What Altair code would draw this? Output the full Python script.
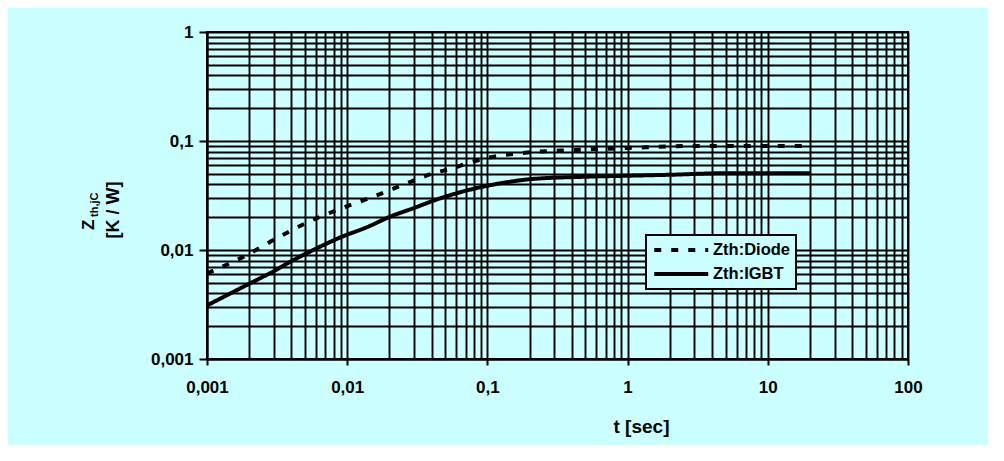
import altair as alt
import pandas as pd

# ---- data ----
series_names = ["Zth:Diode", "Zth:IGBT"]

diode_t = [0.001, 0.0018, 0.003, 0.005, 0.009, 0.016, 0.028, 0.042, 0.056, 0.075,
           0.1, 0.2, 0.4, 1, 3, 10, 20]
diode_z = [0.0061, 0.0086, 0.0124, 0.0175, 0.024, 0.0315, 0.042, 0.051, 0.056, 0.0635,
           0.07, 0.0787, 0.0826, 0.0863, 0.09, 0.09, 0.09]

igbt_t = [0.001, 0.002, 0.003, 0.004, 0.006, 0.009, 0.014, 0.02, 0.03, 0.043,
          0.06, 0.093, 0.145, 0.2, 0.5, 1, 2, 5, 10, 20]
igbt_z = [0.0031, 0.0049, 0.0064, 0.0079, 0.0103, 0.0131, 0.0163, 0.0201, 0.0243, 0.0289,
          0.0331, 0.0381, 0.0423, 0.0446, 0.047, 0.048, 0.049, 0.0506, 0.0506, 0.0506]

x_ticks = [round(m * 10 ** k, 6) for k in range(-3, 2) for m in range(1, 10)] + [100]
y_ticks = [round(m * 10 ** k, 6) for k in range(-3, 0) for m in range(1, 10)] + [1]

x_title = "t [sec]"
y_title_main = "Z"
y_title_sub = "th,jC"
y_title_unit = "[K / W]"

BG = "#CCFFFF"
FONT = "Liberation Sans"

df = pd.DataFrame(
    {"t": diode_t + igbt_t,
     "z": diode_z + igbt_z,
     "series": [series_names[0]] * len(diode_t) + [series_names[1]] * len(igbt_t)}
)

decade = "abs(log(datum.value)/LN10 - round(log(datum.value)/LN10)) < 0.001"
label_expr = f"{decade} ? replace(toString(datum.value), '.', ',') : ''"

x_axis = alt.Axis(
    values=x_ticks, labelExpr=label_expr, grid=True, gridColor="black", gridWidth=1.9,
    gridOpacity=1, domainColor="black", domainWidth=2, tickColor="black", tickWidth=2,
    tickSize=6, tickOpacity={"condition": {"test": decade, "value": 1}, "value": 0},
    labelFont=FONT, labelFontSize=17, labelFontWeight="bold", labelColor="black",
    labelBaseline="alphabetic", labelPadding=27, labelFlush=False, labelOverlap=False,
    title=x_title, titleFont=FONT, titleFontSize=19, titleFontWeight="bold",
    titleColor="black", titleX=434, titleY=73, titleAlign="center",
    titleBaseline="alphabetic", titleAnchor="start",
)
y_axis = alt.Axis(
    values=y_ticks, labelExpr=label_expr, grid=True, gridColor="black", gridWidth=1.9,
    gridOpacity=1, domainColor="black", domainWidth=2, tickColor="black", tickWidth=2,
    tickSize=8, tickOpacity={"condition": {"test": decade, "value": 1}, "value": 0},
    labelFont=FONT, labelFontSize=17, labelFontWeight="bold", labelColor="black",
    labelPadding=6, labelFlush=False, labelOverlap=False, title=None,
)

lines = alt.Chart(df).mark_line(strokeWidth=4, color="black", interpolate="monotone",
                                strokeCap="butt").encode(
    x=alt.X("t:Q", scale=alt.Scale(type="log", domain=[0.001, 100], nice=False), axis=x_axis),
    y=alt.Y("z:Q", scale=alt.Scale(type="log", domain=[0.001, 1], nice=False), axis=y_axis),
    strokeDash=alt.StrokeDash(
        "series:N",
        scale=alt.Scale(domain=series_names, range=[[7, 10], [1, 0]]),
        legend=alt.Legend(
            orient="none", legendX=439, legendY=203, title=None,
            fillColor=BG, strokeColor="black", padding=6, rowPadding=6,
            symbolType="M-1,0H7", symbolSize=182, symbolStrokeWidth=4,
            symbolStrokeColor="black", symbolFillColor="transparent",
            labelFont=FONT, labelFontSize=16.5, labelFontWeight="bold",
            labelColor="black", labelOffset=43,
        ),
    ),
)

one = pd.DataFrame({"k": [0]})

shadow = alt.Chart(one).mark_rect(color="black").encode(
    x=alt.value(442), x2=alt.value(589), y=alt.value(206), y2=alt.value(257)
)

t_main = alt.Chart(one).mark_text(
    text=y_title_main, angle=270, align="left", baseline="middle",
    font=FONT, fontSize=17, fontWeight="bold", color="black"
).encode(x=alt.value(-118), y=alt.value(198))

t_sub = alt.Chart(one).mark_text(
    text=y_title_sub, angle=270, align="left", baseline="middle",
    font=FONT, fontSize=11, fontWeight="bold", color="black"
).encode(x=alt.value(-112), y=alt.value(185))

t_unit = alt.Chart(one).mark_text(
    text=y_title_unit, angle=270, align="center", baseline="middle",
    font=FONT, fontSize=18, fontWeight="bold", color="black"
).encode(x=alt.value(-93), y=alt.value(178))

chart = alt.layer(shadow, lines, t_main, t_sub, t_unit).properties(
    width=701, height=327,
    autosize="none",
    padding={"left": 199, "top": 24, "right": 80, "bottom": 86},
    background=BG,
).configure_view(
    fill=BG, stroke="black", strokeWidth=2
).configure_legend(
    strokeWidth=2
)

chart.save("out.html", embed_options={"renderer": "svg", "actions": False})
